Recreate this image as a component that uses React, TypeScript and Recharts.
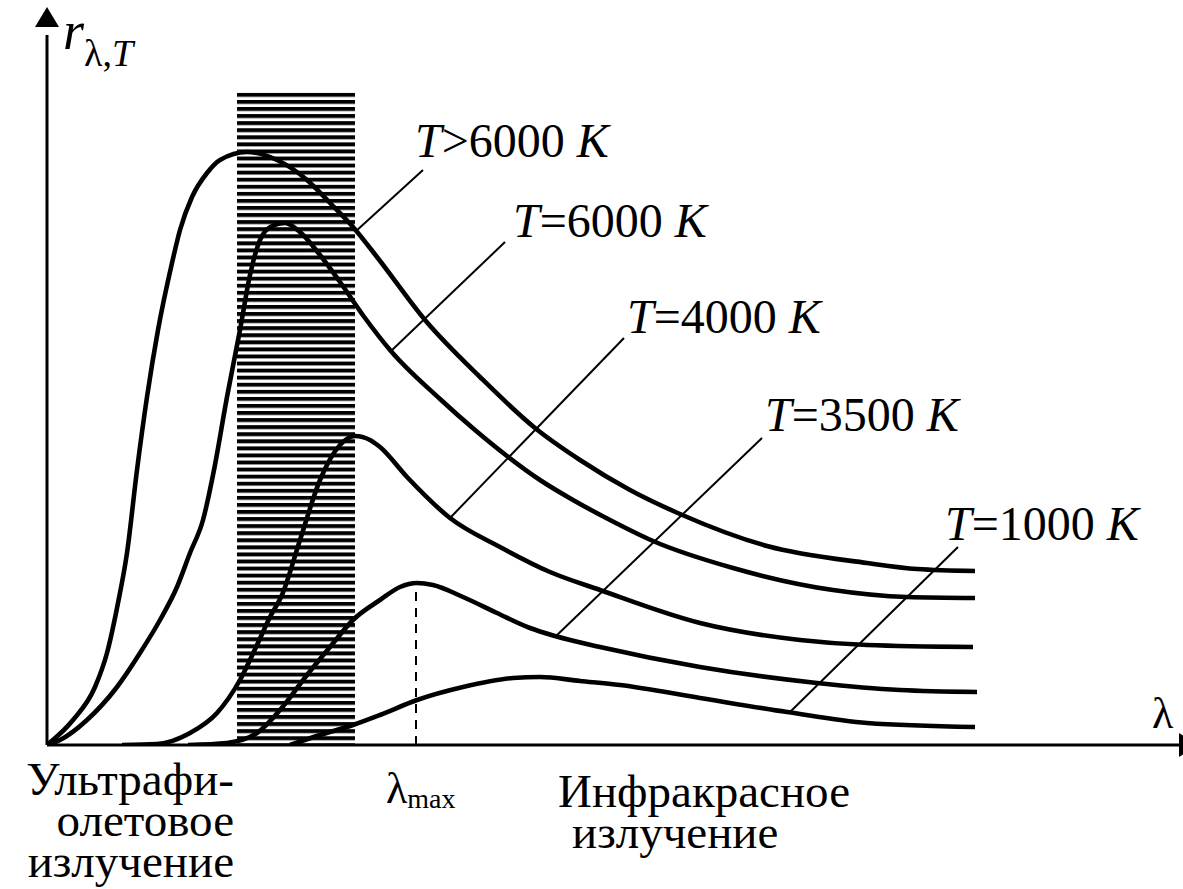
import React from 'react';
import {
  ComposedChart,
  Line,
  XAxis,
  YAxis,
  ReferenceLine,
  ReferenceArea,
  ReferenceDot,
} from 'recharts';

// λ (arbitrary units) and r(λ,T) (arbitrary units)
const curveAbove6000 = [
  { lam: 0, r: 0 }, { lam: 0.26, r: 0.25 }, { lam: 0.48, r: 0.58 }, { lam: 0.6, r: 0.92 },
  { lam: 0.71, r: 1.42 }, { lam: 0.8, r: 1.92 }, { lam: 0.9, r: 2.75 }, { lam: 1.0, r: 3.48 },
  { lam: 1.11, r: 4.15 }, { lam: 1.25, r: 4.82 }, { lam: 1.33, r: 5.15 }, { lam: 1.45, r: 5.48 },
  { lam: 1.6, r: 5.72 }, { lam: 1.73, r: 5.85 }, { lam: 2.0, r: 5.93 }, { lam: 2.3, r: 5.85 },
  { lam: 2.6, r: 5.65 }, { lam: 2.83, r: 5.42 }, { lam: 3.06, r: 5.18 }, { lam: 3.3, r: 4.88 },
  { lam: 3.78, r: 4.25 }, { lam: 4.33, r: 3.68 }, { lam: 4.88, r: 3.17 }, { lam: 5.33, r: 2.85 },
  { lam: 5.83, r: 2.55 }, { lam: 6.33, r: 2.31 }, { lam: 7.2, r: 1.99 }, { lam: 8.2, r: 1.82 },
  { lam: 8.7, r: 1.76 }, { lam: 9.28, r: 1.74 },
];

const curve6000 = [
  { lam: 0, r: 0 }, { lam: 0.13, r: 0.05 }, { lam: 0.4, r: 0.25 }, { lam: 0.7, r: 0.58 },
  { lam: 0.93, r: 0.92 }, { lam: 1.13, r: 1.25 }, { lam: 1.3, r: 1.58 }, { lam: 1.43, r: 1.92 },
  { lam: 1.56, r: 2.25 }, { lam: 1.67, r: 2.75 }, { lam: 1.8, r: 3.48 }, { lam: 1.93, r: 4.15 },
  { lam: 2.03, r: 4.7 }, { lam: 2.13, r: 5.05 }, { lam: 2.25, r: 5.19 }, { lam: 2.38, r: 5.22 },
  { lam: 2.53, r: 5.13 }, { lam: 2.73, r: 4.9 }, { lam: 2.93, r: 4.63 }, { lam: 3.18, r: 4.27 },
  { lam: 3.43, r: 3.95 }, { lam: 3.93, r: 3.46 }, { lam: 4.28, r: 3.15 }, { lam: 4.6, r: 2.89 },
  { lam: 4.93, r: 2.65 }, { lam: 5.26, r: 2.45 }, { lam: 5.63, r: 2.25 }, { lam: 6.06, r: 2.04 },
  { lam: 6.86, r: 1.77 }, { lam: 7.86, r: 1.55 }, { lam: 8.6, r: 1.48 }, { lam: 9.28, r: 1.47 },
];

const curve4000 = [
  { lam: 0.75, r: 0 }, { lam: 1.1, r: 0.01 }, { lam: 1.43, r: 0.12 }, { lam: 1.7, r: 0.32 },
  { lam: 1.93, r: 0.65 }, { lam: 2.1, r: 1.0 }, { lam: 2.23, r: 1.28 }, { lam: 2.35, r: 1.5 },
  { lam: 2.53, r: 2.05 }, { lam: 2.73, r: 2.65 }, { lam: 2.93, r: 3.0 }, { lam: 3.08, r: 3.09 },
  { lam: 3.23, r: 3.05 }, { lam: 3.33, r: 2.98 }, { lam: 3.6, r: 2.68 }, { lam: 4.03, r: 2.27 },
  { lam: 4.53, r: 1.98 }, { lam: 5.03, r: 1.73 }, { lam: 5.53, r: 1.55 }, { lam: 6.53, r: 1.22 },
  { lam: 7.53, r: 1.05 }, { lam: 8.2, r: 1.0 }, { lam: 9.26, r: 0.98 },
];

const curve3500 = [
  { lam: 1.41, r: 0 }, { lam: 1.8, r: 0.02 }, { lam: 2.1, r: 0.12 }, { lam: 2.33, r: 0.35 },
  { lam: 2.6, r: 0.7 }, { lam: 2.83, r: 0.98 }, { lam: 3.06, r: 1.25 }, { lam: 3.33, r: 1.45 },
  { lam: 3.53, r: 1.58 }, { lam: 3.7, r: 1.62 }, { lam: 3.86, r: 1.6 }, { lam: 4.16, r: 1.48 },
  { lam: 4.5, r: 1.32 }, { lam: 4.83, r: 1.17 }, { lam: 5.08, r: 1.09 }, { lam: 5.53, r: 0.98 },
  { lam: 6.53, r: 0.78 }, { lam: 7.7, r: 0.62 }, { lam: 8.53, r: 0.55 }, { lam: 9.3, r: 0.53 },
];

const curve1000 = [
  { lam: 2.43, r: 0 }, { lam: 2.73, r: 0.1 }, { lam: 3.06, r: 0.2 }, { lam: 3.33, r: 0.3 },
  { lam: 3.7, r: 0.45 }, { lam: 4.16, r: 0.58 }, { lam: 4.66, r: 0.67 }, { lam: 4.93, r: 0.68 },
  { lam: 5.33, r: 0.64 }, { lam: 5.73, r: 0.6 }, { lam: 6.53, r: 0.47 }, { lam: 7.4, r: 0.33 },
  { lam: 8.2, r: 0.22 }, { lam: 9.28, r: 0.18 },
];

// leader lines: point on curve -> end near label
const leaderFrom = [
  { lam: 3.08, r: 5.13 }, { lam: 3.43, r: 3.93 }, { lam: 4.03, r: 2.27 },
  { lam: 5.08, r: 1.08 }, { lam: 7.43, r: 0.33 },
];
const leaderTo = [
  { lam: 3.76, r: 5.75 }, { lam: 4.58, r: 5.03 }, { lam: 5.77, r: 4.07 },
  { lam: 7.15, r: 3.07 }, { lam: 9.11, r: 1.98 },
];
const labelOps = ['>', '=', '=', '=', '='];
const labelTemps = ['6000', '6000', '4000', '3500', '1000'];
const labelAnchors = [
  { lam: 3.68, r: 5.88 }, { lam: 4.66, r: 5.08 }, { lam: 5.8, r: 4.12 },
  { lam: 7.18, r: 3.14 }, { lam: 8.98, r: 2.05 },
];

// UV band and λmax
const uvBand = { from: 1.9, to: 3.08, top: 6.53 };
const lambdaMax = { lam: 3.69, r: 1.62 };

const uvLines = ['Ультрафи-', 'олетовое', 'излучение'];
const irLines = ['Инфракрасное', 'излучение'];

const W = 1183;
const H = 889;
const M = { top: 7, right: 0, bottom: 144, left: 47 };
const X_MAX = 11.36;
const Y_MAX = 7.38;

// same linear mapping the chart uses (domain -> plot box), for text placement
const px = (lam: number) => M.left + (lam / X_MAX) * (W - M.left - M.right);
const py = (r: number) => M.top + (1 - r / Y_MAX) * (H - M.top - M.bottom);

const SERIF = "'Liberation Serif', 'Times New Roman', serif";

const tri = (render: (cx: number, cy: number) => React.ReactElement) => (p: any) =>
  render(p.cx, p.cy);

export default function App() {
  const series = [curveAbove6000, curve6000, curve4000, curve3500, curve1000];
  return (
    <div style={{ position: 'absolute', left: 0, top: 0, width: W, height: H, background: '#fff' }}>
      <svg width={0} height={0} style={{ position: 'absolute' }}>
        <defs>
          <pattern id="hatch" patternUnits="userSpaceOnUse" x={0} y={1} width={10} height={7.07}>
            <rect x={0} y={0} width={10} height={3.9} fill="#000" />
          </pattern>
        </defs>
      </svg>
      <ComposedChart width={W} height={H} margin={M}>
        <XAxis type="number" dataKey="lam" domain={[0, X_MAX]} hide allowDataOverflow />
        <YAxis type="number" dataKey="r" domain={[0, Y_MAX]} hide allowDataOverflow />

        <ReferenceArea
          x1={uvBand.from}
          x2={uvBand.to}
          y1={0}
          y2={uvBand.top}
          fill="url(#hatch)"
          fillOpacity={1}
          stroke="none"
          ifOverflow="visible"
        />

        {/* axes */}
        <ReferenceLine segment={[{ x: 0, y: 0 }, { x: 0, y: 7.1 }]} stroke="#000" strokeWidth={3} ifOverflow="visible" />
        <ReferenceLine segment={[{ x: 0, y: 0 }, { x: X_MAX, y: 0 }]} stroke="#000" strokeWidth={3} ifOverflow="visible" />
        <ReferenceDot
          x={0}
          y={Y_MAX}
          r={0}
          ifOverflow="visible"
          shape={tri((cx, cy) => (
            <polygon points={`${cx},${cy} ${cx + 12},${cy + 20} ${cx - 12},${cy + 20}`} fill="#000" />
          ))}
        />
        <ReferenceDot
          x={11.32}
          y={0}
          r={0}
          ifOverflow="visible"
          shape={tri((cx, cy) => (
            <polygon points={`${cx},${cy - 12} ${cx + 20},${cy} ${cx},${cy + 12}`} fill="#000" />
          ))}
        />

        {/* λmax dashed */}
        <ReferenceLine
          segment={[{ x: lambdaMax.lam, y: 0 }, { x: lambdaMax.lam, y: lambdaMax.r }]}
          stroke="#000"
          strokeWidth={2}
          strokeDasharray="9 7"
          ifOverflow="visible"
        />

        {/* leader lines */}
        {leaderFrom.map((p, i) => (
          <ReferenceLine
            key={'ld' + i}
            segment={[{ x: p.lam, y: p.r }, { x: leaderTo[i].lam, y: leaderTo[i].r }]}
            stroke="#000"
            strokeWidth={2}
            ifOverflow="visible"
          />
        ))}

        {series.map((d, i) => (
          <Line
            key={'s' + i}
            data={d}
            dataKey="r"
            type="monotone"
            stroke="#000"
            strokeWidth={4.6}
            dot={false}
            activeDot={false}
            isAnimationActive={false}
          />
        ))}
      </ComposedChart>

      {/* text layer */}
      <svg
        width={W}
        height={H}
        style={{ position: 'absolute', left: 0, top: 0, pointerEvents: 'none' }}
      >
        <g style={{ fontFamily: SERIF, whiteSpace: 'pre' }} fill="#000">
          {labelAnchors.map((p, i) => (
            <text key={'lb' + i} x={px(p.lam)} y={py(p.r)} fontSize={48}>
              <tspan fontStyle="italic">T</tspan>
              <tspan>{labelOps[i] + labelTemps[i] + ' '}</tspan>
              <tspan fontStyle="italic">K</tspan>
            </text>
          ))}

          <text x={px(0.16)} y={py(6.96)}>
            <tspan fontSize={54} fontStyle="italic">r</tspan>
            <tspan fontSize={38} dy={17}>λ,</tspan>
            <tspan fontSize={38} fontStyle="italic">T</tspan>
          </text>

          <text x={px(11.05)} y={py(0.17)} fontSize={44}>λ</text>

          <text x={px(3.39)} y={py(-0.58)}>
            <tspan fontSize={44}>λ</tspan>
            <tspan fontSize={28} dy={5}>max</tspan>
          </text>

          <text fontSize={47} textAnchor="end">
            {uvLines.map((s, i) => (
              <tspan key={i} x={px(1.87)} y={py(-0.5) + i * 41}>{s}</tspan>
            ))}
          </text>

          <text fontSize={47}>
            {irLines.map((s, i) => (
              <tspan key={i} x={px(5.11) + i * 14} y={py(-0.62) + i * 41}>{s}</tspan>
            ))}
          </text>
        </g>
      </svg>
    </div>
  );
}
